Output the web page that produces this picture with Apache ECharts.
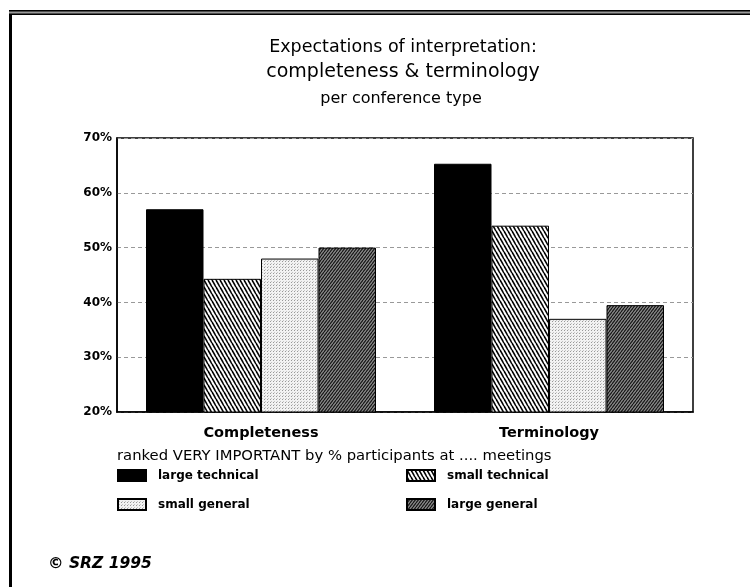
<!DOCTYPE html>
<html>
<head>
<meta charset="utf-8">
<script src="https://cdn.jsdelivr.net/npm/echarts@6/dist/echarts.min.js"></script>
<style>
html,body{margin:0;padding:0;background:#fff;}
#chart{width:750px;height:587px;}
</style>
</head>
<body>
<div id="chart"></div>
<script>
// ---- data ----
var categories = ['Completeness', 'Terminology'];
var seriesNames = ['large technical', 'small technical', 'small general', 'large general'];
var largeTechnical = [57, 65.3];
var smallTechnical = [44.3, 54];
var smallGeneral = [48, 37];
var largeGeneral = [50, 39.5];
var yTicks = [20, 30, 40, 50, 60, 70];

// ---- patterns ----
function hatch(w, h, bg, fg, lw, dir) {
  var c = document.createElement('canvas');
  c.width = w; c.height = h;
  var ctx = c.getContext('2d');
  ctx.fillStyle = bg; ctx.fillRect(0, 0, w, h);
  ctx.strokeStyle = fg; ctx.lineWidth = lw;
  for (var x0 = -w; x0 <= w; x0 += w) {
    ctx.beginPath();
    if (dir === 'back') { ctx.moveTo(x0, 0); ctx.lineTo(x0 + w, h); }
    else { ctx.moveTo(x0, h); ctx.lineTo(x0 + w, 0); }
    ctx.stroke();
  }
  return c;
}
function dots() {
  var c = document.createElement('canvas');
  c.width = 3; c.height = 3;
  var ctx = c.getContext('2d');
  ctx.fillStyle = '#f2f2f2'; ctx.fillRect(0, 0, 3, 3);
  ctx.fillStyle = '#999';
  ctx.fillRect(0, 0, 1, 1);
  ctx.fillStyle = '#c4c4c4';
  ctx.fillRect(1, 2, 1, 1);
  return c;
}
var fills = [
  '#000',
  { image: hatch(4, 7, '#fff', '#000', 1.6, 'back'), repeat: 'repeat' },
  { image: dots(), repeat: 'repeat' },
  { image: hatch(3, 4, '#8a8a8a', '#111', 1.1, 'fwd'), repeat: 'repeat' }
];
var values = [largeTechnical, smallTechnical, smallGeneral, largeGeneral];

var chart = echarts.init(document.getElementById('chart'), null, { renderer: 'canvas' });
var font = '"DejaVu Sans", "Liberation Sans", Arial, sans-serif';

var series = seriesNames.map(function (n, i) {
  return {
    name: n,
    type: 'bar',
    data: values[i],
    barWidth: 57.5,
    barGap: '0%',
    itemStyle: { color: fills[i], borderColor: '#000', borderWidth: 1 }
  };
});

var legendText = { fontFamily: font, fontSize: 12, fontWeight: 'bold', color: '#000', padding: [0, 0, 0, 7] };

var option = {
  backgroundColor: '#fff',
  animation: false,
  title: [
    { text: 'Expectations of interpretation:', left: 398, top: 33, textAlign: 'center',
      textStyle: { fontFamily: font, fontSize: 17.5, fontWeight: 'normal', color: '#000' } },
    { text: 'completeness & terminology', left: 398, top: 58, textAlign: 'center',
      textStyle: { fontFamily: font, fontSize: 19, fontWeight: 'normal', color: '#000' } },
    { text: 'per conference type', left: 396, top: 86, textAlign: 'center',
      textStyle: { fontFamily: font, fontSize: 16, fontWeight: 'normal', color: '#000' } },
    { text: 'ranked VERY IMPORTANT by % participants at .... meetings', left: 112, top: 444,
      textStyle: { fontFamily: font, fontSize: 14.8, fontWeight: 'normal', color: '#000' } },
    { text: '\u00A9 SRZ 1995', left: 43, top: 551,
      textStyle: { fontFamily: font, fontSize: 15.5, fontWeight: 'bold', fontStyle: 'italic', color: '#000' } }
  ],
  legend: [
    { data: ['large technical', 'small general'], left: 117, top: 469, orient: 'vertical', padding: 0,
      icon: 'rect', itemWidth: 28, itemHeight: 11, itemGap: 16, textStyle: legendText },
    { data: ['small technical', 'large general'], left: 406, top: 469, orient: 'vertical', padding: 0,
      icon: 'rect', itemWidth: 28, itemHeight: 11, itemGap: 16, textStyle: legendText }
  ],
  grid: { left: 117, right: 57, top: 138, bottom: 175, show: true, borderColor: '#000', borderWidth: 1.5, backgroundColor: 'transparent' },
  xAxis: {
    type: 'category', data: categories,
    axisLine: { show: true, lineStyle: { color: '#000', width: 1.5 } },
    axisTick: { show: false },
    axisLabel: { fontFamily: font, fontSize: 14.5, fontWeight: 'bold', color: '#000', margin: 14 }
  },
  yAxis: {
    type: 'value', min: yTicks[0], max: yTicks[yTicks.length - 1], interval: 10,
    axisLine: { show: true, lineStyle: { color: '#000', width: 1.5 } },
    axisTick: { show: false },
    axisLabel: { fontFamily: font, fontSize: 12, fontWeight: 'bold', color: '#000', margin: 5, formatter: '{value}%' },
    splitLine: { show: true, lineStyle: { color: '#999', type: [4, 3], width: 1 } }
  },
  series: series,
  graphic: [
    { type: 'rect', shape: { x: 9, y: 10, width: 3, height: 577 }, style: { fill: '#000' }, silent: true },
    { type: 'rect', shape: { x: 9, y: 10, width: 741, height: 5 }, style: { fill: '#999' }, silent: true },
    { type: 'rect', shape: { x: 9, y: 10, width: 741, height: 1.5 }, style: { fill: '#000' }, silent: true },
    { type: 'rect', shape: { x: 9, y: 13.5, width: 741, height: 1.5 }, style: { fill: '#000' }, silent: true }
  ]
};
chart.setOption(option);
</script>
</body>
</html>
